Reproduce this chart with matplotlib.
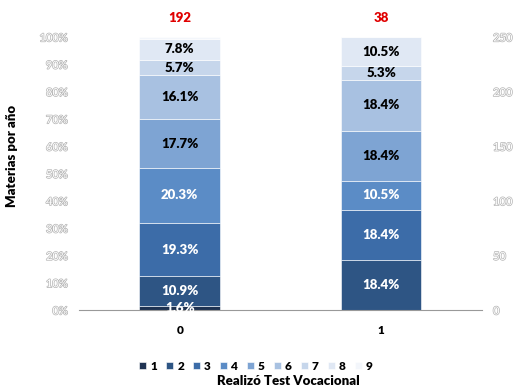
import matplotlib.pyplot as plt
import matplotlib.patheffects as pe
import numpy as np

plt.rcParams['font.family'] = ['Lato', 'DejaVu Sans']

groups = ['0', '1']
totals = [192, 38]
categories = ['1', '2', '3', '4', '5', '6', '7', '8', '9']
# percentage of each category within each group
pct_0 = [1.6, 10.9, 19.3, 20.3, 17.7, 16.1, 5.7, 7.8, 0.5]
pct_1 = [0.0, 18.4, 18.4, 10.5, 18.4, 18.4, 5.3, 10.5, 0.0]
colors = ['#1f3352', '#2e5584', '#3c6ca8', '#5b8cc6', '#7ea4d3',
          '#a8c1e1', '#c6d6eb', '#e0e8f4', '#f3f6fb']
text_colors = ['white'] * 4 + ['black'] * 5

fig = plt.figure(figsize=(5.16, 3.89), dpi=100)
ax = fig.add_axes([0.153, 0.203, 0.781, 0.702])

x = np.arange(len(groups))
data = np.array([pct_0, pct_1])
bottom = np.zeros(len(groups))
handles = []
for i, cat in enumerate(categories):
    vals = data[:, i]
    b = ax.bar(x, vals, 0.4, bottom=bottom, color=colors[i], label=cat,
               edgecolor='white', linewidth=0.4)
    handles.append(b)
    for j, v in enumerate(vals):
        if v >= 1:
            ax.text(x[j], bottom[j] + v / 2, f'{v:.1f}%', ha='center', va='center',
                    fontsize=9.5, fontweight='heavy', color=text_colors[i])
    bottom += vals

for j, t in enumerate(totals):
    ax.text(x[j], 107, str(t), ha='center', va='center', fontsize=9.5,
            fontweight='heavy', color='#e00000')

ax.set_xlim(-0.5, 1.5)
ax.set_ylim(0, 100)
ax.set_yticks(np.arange(0, 101, 10))
ax.set_yticklabels([f'{v}%' for v in range(0, 101, 10)])
ax.set_xticks(x)
ax.set_xticklabels(groups, fontsize=8.5, fontweight='heavy')
for s in ['left', 'right', 'top']:
    ax.spines[s].set_visible(False)
ax.spines['bottom'].set_color('#999999')
ax.tick_params(axis='both', length=0)
ax.tick_params(axis='y', pad=8)
ax.tick_params(axis='x', pad=11)

ax2 = ax.twinx()
ax2.set_ylim(0, 250)
ax2.set_yticks(np.arange(0, 251, 50))
for s in ['left', 'right', 'top', 'bottom']:
    ax2.spines[s].set_visible(False)
ax2.tick_params(axis='y', length=0, pad=8)

outline = [pe.withStroke(linewidth=1.0, foreground='#b4b4b4')]
for lab in ax.get_yticklabels() + ax2.get_yticklabels():
    lab.set_fontsize(8)
    lab.set_color('white')
    lab.set_path_effects(outline)

fig.text(0.023, 0.599, 'Materias por año', rotation=90, ha='center', va='center',
         fontsize=9.5, fontweight='heavy')
fig.text(0.558, 0.02, 'Realizó Test Vocacional', ha='center', va='center',
         fontsize=9.5, fontweight='heavy')
fig.legend(handles=handles, labels=categories, loc='center', bbox_to_anchor=(0.496, 0.059),
           ncol=9, frameon=False, handlelength=0.6, handleheight=0.6,
           handletextpad=0.35, columnspacing=0.75, prop={'weight': 'heavy', 'size': 8.5})

fig.savefig('out.png', dpi=100)
